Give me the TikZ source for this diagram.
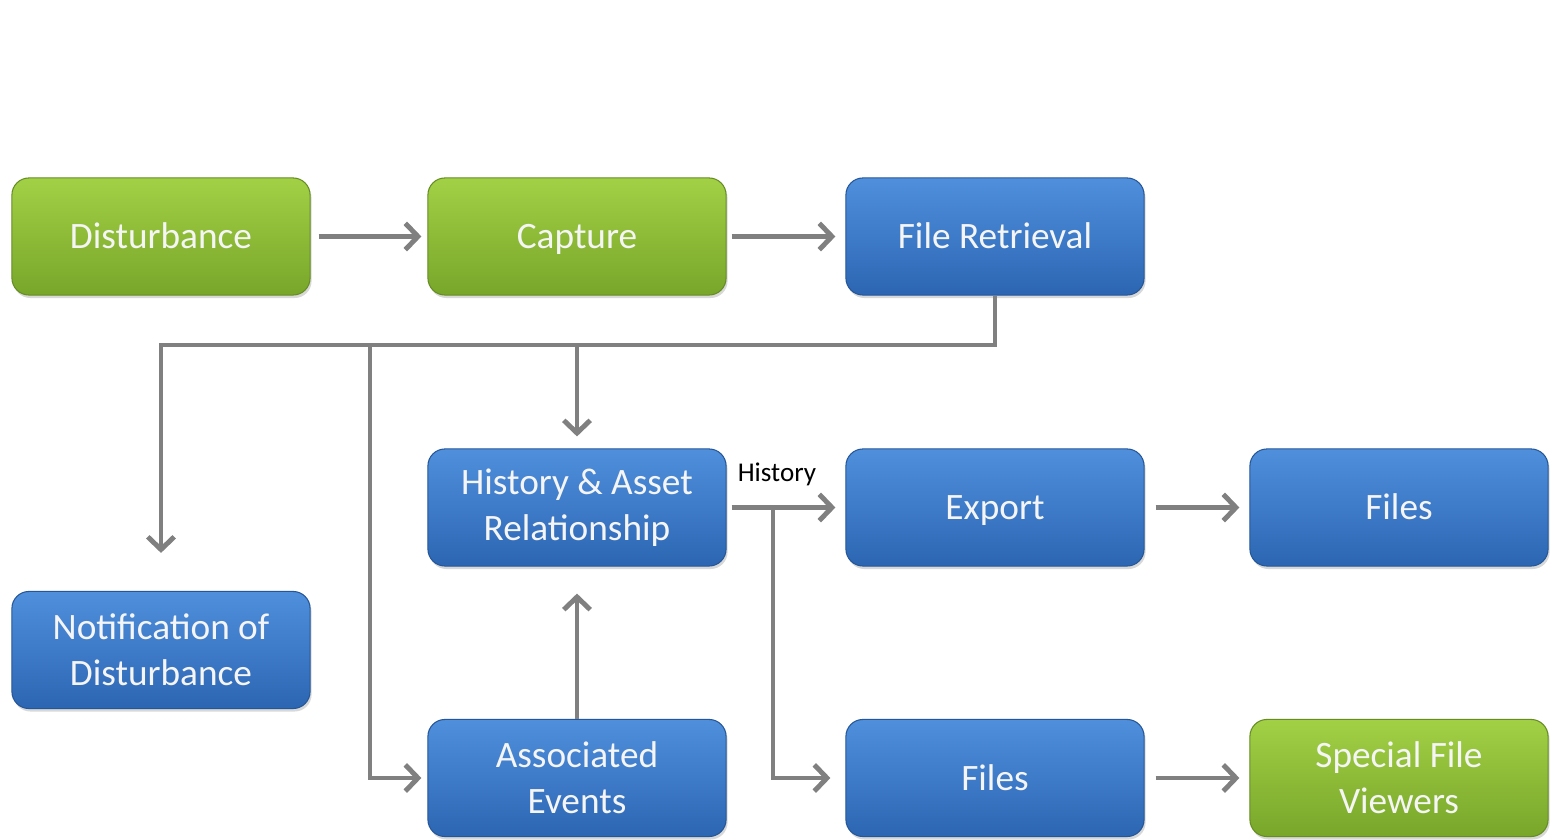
\documentclass[tikz,border=0pt]{standalone}
\usepackage{fontspec}
\setmainfont{Carlito}
\usetikzlibrary{arrows.meta,shadows}
\definecolor{gtop}{HTML}{A2D045}
\definecolor{gbot}{HTML}{78A62A}
\definecolor{btop}{HTML}{4F8FDC}
\definecolor{bbot}{HTML}{2C66B3}
\definecolor{lncol}{HTML}{808080}
\tikzset{
  box/.style={rounded corners=0.17cm, minimum width=2.98cm, minimum height=1.17cm,
    align=center, text=white!96!black, font=\fontsize{10.6}{13}\selectfont,
    drop shadow={shadow xshift=0.015cm, shadow yshift=-0.03cm, opacity=0.3}},
  one/.style={text height=1.75ex, text depth=0.3ex},
  gbox/.style={box, top color=gtop, bottom color=gbot, draw=gbot!85!black, line width=0.3pt},
  bbox/.style={box, top color=btop, bottom color=bbot, draw=bbot!85!black, line width=0.3pt},
  conn/.style={draw=lncol, line width=1.4pt},
  arr/.style={conn, -{Straight Barb[length=3.6pt,width=7.5pt]}},
}
\begin{document}
\begin{tikzpicture}[x=0.01cm,y=-0.01cm]
\useasboundingbox (0,0) rectangle (1550,840);
\fill[white] (0,0) rectangle (1550,840);
% boxes
\node[gbox,one] (dist)   at (161,236.5) {Disturbance};
\node[gbox,one] (cap)    at (577,236.5) {Capture};
\node[bbox,one] (fr)     at (995,236.5) {File Retrieval};
\node[bbox] (hist)   at (577,507.5) {History \& Asset\\Relationship};
\node[bbox,one] (exp)    at (995,507.5) {Export};
\node[bbox,one] (files1) at (1399,507.5) {Files};
\node[bbox] (notif)  at (161,650) {Notification of\\Disturbance};
\node[bbox] (assoc)  at (577,778) {Associated\\Events};
\node[bbox,one] (files2) at (995,778) {Files};
\node[gbox] (sfv)    at (1399,778) {Special File\\Viewers};
% junctions
\coordinate (j0) at (995,345);
\coordinate (j1) at (370,345);
\coordinate (j2) at (773,507.5);
% connectors
\draw[arr, shorten <=0.08cm, shorten >=0.06cm] (dist.east) -- (cap.west);
\draw[arr, shorten <=0.05cm, shorten >=0.1cm] (cap.east) -- (fr.west);
\draw[arr, shorten >=0.38cm] (fr.south) -- (j0) -| (notif.north);
\draw[arr, shorten >=0.06cm] (j1) |- (assoc.west);
\draw[arr, shorten >=0.12cm] (hist.north |- j0) -- (hist.north);
\draw[arr, shorten >=0.27cm] (assoc.north) -- (hist.south);
\draw[arr, shorten <=0.05cm, shorten >=0.1cm] (hist.east) -- node[above=2pt, xshift=-0.09cm, font=\fontsize{7.7}{9}\selectfont, text=black] (hl) {History} (exp.west);
\draw[arr, shorten >=0.15cm] (j2) |- (files2.west);
\draw[arr, shorten <=0.11cm, shorten >=0.1cm] (exp.east) -- (files1.west);
\draw[arr, shorten <=0.11cm, shorten >=0.1cm] (files2.east) -- (sfv.west);
\end{tikzpicture}
\end{document}
